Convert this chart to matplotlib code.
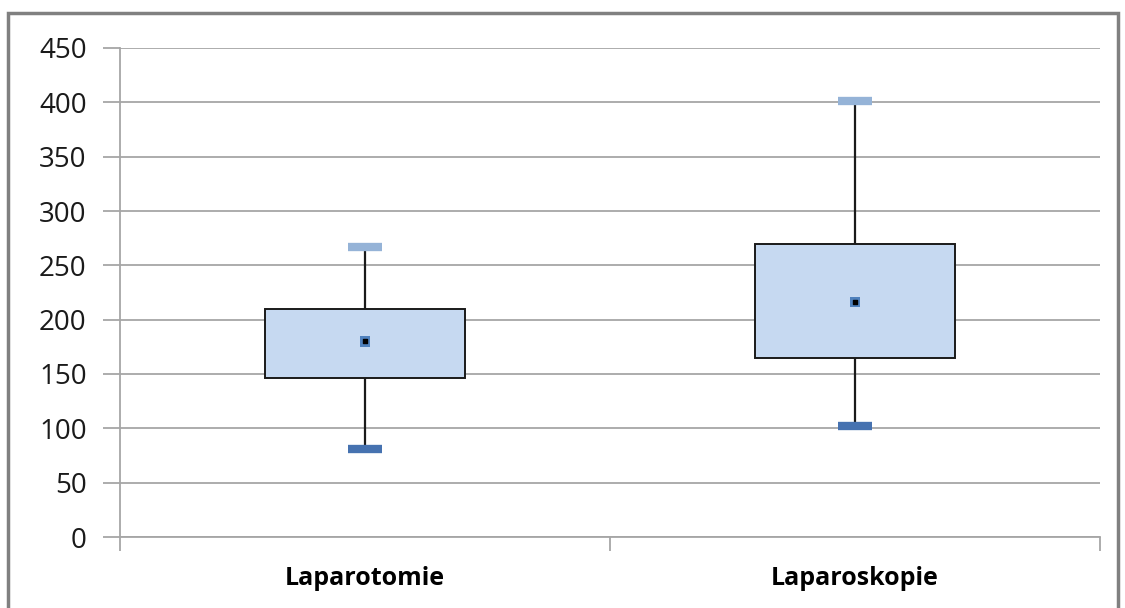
import matplotlib
matplotlib.use("Agg")
import matplotlib.pyplot as plt
from matplotlib.patches import Rectangle
import numpy as np

# data
categories = ["Laparotomie", "Laparoskopie"]
mins = [81, 102]
q1 = [146, 165]
means = [180, 216]
q3 = [210, 270]
maxs = [267, 401]

plt.rcParams['font.family'] = ['Open Sans', 'DejaVu Sans']

fig = plt.figure(figsize=(11.25, 6.08), dpi=100)
ax = fig.add_axes([120/1125, 71/608, 980/1125, 489/608])

x = np.arange(len(categories))
grid_c = '#A6A6A6'

# whiskers
ax.vlines(x, mins, q1, color='#1a1a1a', lw=1.6, zorder=2)
ax.vlines(x, q3, maxs, color='#1a1a1a', lw=1.6, zorder=2)
# boxes
ax.bar(x, np.subtract(q3, q1), bottom=q1, width=0.41, color='#C6D9F1',
       edgecolor='#1a1a1a', lw=1.4, zorder=3)
# caps
ax.hlines(maxs, x - 0.034, x + 0.034, color='#95B3D7', lw=6, zorder=4)
ax.hlines(mins, x - 0.034, x + 0.034, color='#4672B0', lw=6, zorder=4)
# mean markers
ax.scatter(x, means, marker='s', s=55, color='#4F81BD', zorder=5, edgecolors='none')
ax.scatter(x, means, marker='s', s=6, color='black', zorder=6)

ax.set_xlim(-0.5, 1.5)
ax.set_ylim(0, 450)
ax.set_yticks(np.arange(0, 451, 50))
ax.yaxis.grid(True, color=grid_c, lw=1.3)
ax.set_axisbelow(True)

ax.set_xticks(x)
ax.set_xticklabels(categories, fontsize=18, fontweight='bold')
ax.tick_params(axis='x', length=0, pad=21)
ax.set_xticks([-0.5, 0.5, 1.5], minor=True)
ax.tick_params(axis='x', which='minor', length=10, color=grid_c, width=1.3)
ax.tick_params(axis='y', length=12, color=grid_c, width=1.3, labelsize=20,
               pad=12, labelcolor='#1a1a1a')

for s in ['top', 'right']:
    ax.spines[s].set_visible(False)
ax.spines['left'].set_color(grid_c)
ax.spines['bottom'].set_color(grid_c)
ax.spines['left'].set_linewidth(1.3)
ax.spines['bottom'].set_linewidth(1.3)

# outer chart frame
fig.patches.append(Rectangle((8/1125, -0.05), 1110/1125, 1.05 - 13/608,
                             transform=fig.transFigure, fill=False,
                             edgecolor='#808080', lw=2.5))

fig.savefig("out.png", dpi=100)
